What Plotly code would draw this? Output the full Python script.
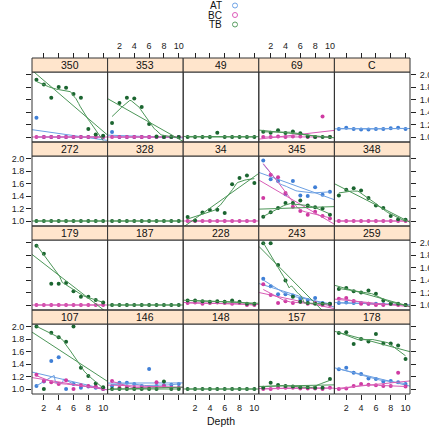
import numpy as np
import plotly.graph_objects as go

# ---------------- data ----------------
depth = [1, 2, 3, 4, 5, 6, 7, 8, 9, 10]
panels = ["107", "146", "148", "157", "178",
          "179", "187", "228", "243", "259",
          "272", "328", "34", "345", "348",
          "350", "353", "49", "69", "C"]
groups = ["AT", "BC", "TB"]

AT = {
    "350": [1.31, 1, 1, 1, 1, 1, 1, 1, 1, 1],
    "353": [1.08, 1, 1, 1, 1, 1, 1, 1, 1, 1],
    "C":   [1.13, 1.15, 1.13, 1.12, 1.12, 1.13, 1.13, 1.14, 1.15, 1.13],
    "345": [1.97, 1.67, 1.64, 1.43, 1.64, 1.41, 1.40, 1.54, 1.42, 1.47],
    "243": [1.42, 1.30, 1.17, 1.17, 1.15, 1.10, 1.08, 1.11, 1.03, 1.02],
    "259": [1.03, 1.04, 1.03, 1.03, 1.02, 1.02, 1.01, 1.02, 1.01, 1.00],
    "107": [1.05, 1.12, 1.45, 1.51, 1.00, 1.08, 1.02, 1.04, 1.02, 1.00],
    "146": [1.05, 1.10, 1.10, 1.08, 1.05, 1.32, 1.05, 1.06, 1.07, 1.08],
    "178": [1.315, 1.34, 1.26, 1.24, 1.17, 1.16, 1.12, 1.13, 1.11, 1.08],
}
BC = {
    "350": [1, 1, 1, 1, 1, 1, 1, 1, 1, 1],
    "353": [1, 1, 1, 1, 1, 1, 1, 1, 1, 1],
    "69":  [1, 1, 1.01, 1, 1.01, 1.01, 1, 1, 1.33, 1],
    "34":  [1, 1, 1, 1, 1, 1, 1, 1, 1, 1],
    "345": [1.37, 1.74, 1.70, 1.45, 1.23, 1.16, 1.10, 1.15, 1.08, 1.04],
    "348": [1, 1, 1, 1, 1, 1, 1, 1, 1, 1],
    "179": [1, 1, 1, 1, 1, 1, 1, 1, 1, 1],
    "228": [1.03, 1.04, 1.02, 1.03, 1.04, 1.03, 1.02, 1.03, 1.00, 1.00],
    "243": [1.33, 1.16, 1.03, 1.06, 1.03, 1.05, 1.02, 1.03, 1.00, 1.00],
    "259": [1.10, 1.11, 1.065, 1.02, 1.02, 1.00, 1.00, 1.02, 1.00, 1.00],
    "107": [1.23, 1.13, 1.11, 1.08, 1.14, 1.00, 1.06, 1.05, 1.04, 1.00],
    "146": [1.13, 1.02, 1.03, 1.02, 1.02, 1.02, 1.11, 1.05, 1.02, 1.02],
    "157": [1.00, 1.00, 1.02, 1.02, 1.02, 1.01, 1.01, 1.01, 1.00, 1.02],
    "178": [1.00, 1.01, 1.05, 1.08, 1.07, 1.06, 1.05, 1.05, 1.26, 1.04],
}
TB = {
    "350": [1.915, 1.84, 1.63, 1.80, 1.79, 1.69, 1.63, 1.13, 1.04, 1.02],
    "353": [1.225, 1.545, 1.63, 1.615, 1.48, 1.21, 1.01, 1.00, 1.00, 1.00],
    "49":  [1, 1, 1, 1, 1.07, 1, 1, 1, 1, 1],
    "69":  [1.085, 1.07, 1.11, 1.065, 1.09, 1.06, 1.01, 1.00, 1.00, 1.00],
    "272": [1, 1, 1, 1, 1, 1, 1, 1, 1, 1],
    "328": [1, 1, 1, 1, 1, 1, 1, 1, 1, 1],
    "34":  [1.065, 1.01, 1.135, 1.175, 1.18, 1.13, 1.59, 1.69, 1.73, 1.61],
    "345": [1.07, 1.14, 1.21, 1.29, 1.29, 1.33, 1.25, 1.22, 1.20, 1.10],
    "348": [1.41, 1.50, 1.525, 1.49, 1.37, 1.25, 1.21, 1.08, 1.03, 1.02],
    "179": [1.95, 1.82, 1.34, 1.34, 1.35, 1.22, 1.13, 1.13, 1.08, 1.04],
    "187": [1, 1, 1, 1, 1, 1, 1, 1, 1, 1],
    "228": [1.07, 1.07, 1.06, 1.05, 1.06, 1.05, 1.07, 1.05, 1.02, 1.02],
    "243": [1.99, 1.99, 1.64, 1.39, 1.13, 1.05, 1.03, 1.02, 1.02, 1.02],
    "259": [1.255, 1.27, 1.22, 1.20, 1.23, 1.18, 1.07, 1.02, 1.02, 1.00],
    "107": [2.00, 1.00, 1.90, 1.83, 1.755, 2.00, 1.34, 1.21, 1.09, 1.03],
    "146": [1, 1, 1, 1, 1, 1, 1, 1.12, 1, 1],
    "148": [1, 1, 1, 1, 1, 1, 1, 1, 1, 1],
    "157": [1.02, 1.10, 1.065, 1.05, 1.04, 1.03, 1.03, 1.02, 1.02, 1.16],
    "178": [1.895, 1.91, 1.72, 1.80, 1.76, 1.88, 1.73, 1.73, 1.695, 1.48],
}
series = {"AT": AT, "BC": BC, "TB": TB}

xticks = [2, 4, 6, 8, 10]
yticks = [1.0, 1.2, 1.4, 1.6, 1.8, 2.0]

# ---------------- styling ----------------
pt_col = {"AT": "#3f7fd6", "BC": "#cf3aa2", "TB": "#1b6530"}
ln_col = {"AT": "#6b9fe2", "BC": "#d85cb6", "TB": "#4c9658"}
key_col = {"AT": "#6fa3e6", "BC": "#dd5cbb", "TB": "#5a9e62"}
XR = [0.4, 10.6]
YR = [0.92, 2.04]
W = H = 429
LEFT, RIGHT = 32, 410
COLW = (RIGHT - LEFT) / 5
ROW_TOP = [58, 142, 226, 310]   # strip tops, top row first
STRIP_H = 14
PANEL_H = 70
TXT = "#222222"
FONT = "Liberation Sans, Arial"


def px(v):
    return v / W


def py(v):
    return 1 - v / H


def loess(x, y, span=2 / 3, iters=4, n_eval=50):
    x = np.asarray(x, float)
    y = np.asarray(y, float)
    n = len(x)
    q = int(np.floor(n * span))
    rw = np.ones(n)

    def fit_at(x0, rw):
        d = np.abs(x - x0)
        h = np.sort(d)[q - 1] * 1.0001 + 1e-9
        u = d / h
        w = np.where(u < 1, (1 - u ** 3) ** 3, 0.0) * rw
        sw = w.sum()
        if sw <= 0:
            return np.nan
        xm = (w * x).sum() / sw
        ym = (w * y).sum() / sw
        sxx = (w * (x - xm) ** 2).sum()
        b = (w * (x - xm) * (y - ym)).sum() / sxx if sxx > 1e-12 else 0.0
        return ym + b * (x0 - xm)

    for it in range(iters - 1):
        fitted = np.array([fit_at(v, rw) for v in x])
        res = np.abs(y - fitted)
        cmad = 6 * np.median(res)
        c1, c9 = 0.001 * cmad, 0.999 * cmad
        with np.errstate(divide="ignore", invalid="ignore"):
            r = np.where(res <= c1, 1.0,
                         np.where(res > c9, 0.0, (1 - (res / cmad) ** 2) ** 2))
        rw = np.nan_to_num(r)
    xe = np.linspace(x.min(), x.max(), n_eval)
    return xe, np.array([fit_at(v, rw) for v in xe])


fig = go.Figure()
shapes = []
annotations = []
layout = {}
tickfont = dict(size=9, color=TXT, family=FONT)

for i, p in enumerate(panels):
    k = i + 1
    row = 3 - i // 5          # 0 = top row
    col = i % 5
    x0 = LEFT + col * COLW
    x1 = x0 + COLW
    st = ROW_TOP[row]
    ptop = st + STRIP_H
    pbot = ptop + PANEL_H
    xa = "x" if k == 1 else f"x{k}"
    ya = "y" if k == 1 else f"y{k}"
    bottom = row == 3
    layout[f"xaxis{k}"] = dict(
        domain=[px(x0), px(x1)], range=XR, anchor=ya, autorange=False,
        automargin=False, showgrid=False, zeroline=False, showline=False,
        tickvals=xticks, ticks="outside" if bottom else "",
        ticklen=5, tickwidth=1, tickcolor=TXT,
        showticklabels=bottom and col in (0, 2, 4), tickfont=tickfont,
    )
    layout[f"yaxis{k}"] = dict(
        domain=[py(pbot), py(ptop)], range=YR, anchor=xa, autorange=False,
        automargin=False, showgrid=False, zeroline=False, showline=False,
        tickvals=yticks, tickformat=".1f",
        ticks="outside" if col == 0 else "",
        ticklen=5, tickwidth=1, tickcolor=TXT,
        showticklabels=(col == 0 and row in (1, 3)), tickfont=tickfont,
    )
    for g in groups:
        if p not in series[g]:
            continue
        yv = series[g][p]
        fig.add_trace(go.Scatter(
            x=depth, y=yv, mode="markers", xaxis=xa, yaxis=ya,
            marker=dict(size=4, color=pt_col[g]), showlegend=False,
            hoverinfo="skip"))
        b, a = np.polyfit(depth, yv, 1)
        fig.add_trace(go.Scatter(
            x=XR, y=[a + b * XR[0], a + b * XR[1]], mode="lines",
            xaxis=xa, yaxis=ya, line=dict(color=ln_col[g], width=1),
            showlegend=False, hoverinfo="skip"))
        xs, ys = loess(depth, yv)
        fig.add_trace(go.Scatter(
            x=xs, y=ys, mode="lines", xaxis=xa, yaxis=ya,
            line=dict(color=ln_col[g], width=1),
            showlegend=False, hoverinfo="skip"))
    shapes.append(dict(type="rect", xref="paper", yref="paper",
                       x0=px(x0), x1=px(x1), y0=py(pbot), y1=py(ptop),
                       line=dict(color="#333333", width=1), layer="above"))
    shapes.append(dict(type="rect", xref="paper", yref="paper",
                       x0=px(x0), x1=px(x1), y0=py(ptop), y1=py(st),
                       fillcolor="#ffe5cc", line=dict(color="#333333", width=1),
                       layer="above"))
    annotations.append(dict(text=p, xref="paper", yref="paper",
                            x=px((x0 + x1) / 2), y=py(st + STRIP_H / 2),
                            xanchor="center", yanchor="middle", showarrow=False,
                            font=dict(size=10.5, color="#111111", family=FONT)))
    if row == 0:
        kk = 21 + col
        layout[f"xaxis{kk}"] = dict(
            overlaying=xa, anchor="free", position=py(st), side="top",
            range=XR, autorange=False, automargin=False, showgrid=False,
            zeroline=False, showline=False, tickvals=xticks, ticks="outside",
            ticklen=5, tickwidth=1, tickcolor=TXT,
            showticklabels=col in (1, 3), tickfont=tickfont)
        fig.add_trace(go.Scatter(x=[], y=[], xaxis=f"x{kk}", yaxis=ya,
                                 showlegend=False, hoverinfo="skip"))
    if col == 4:
        kk = 21 + row
        layout[f"yaxis{kk}"] = dict(
            overlaying=ya, anchor="free", position=px(RIGHT), side="right",
            range=YR, autorange=False, automargin=False, showgrid=False,
            zeroline=False, showline=False, tickvals=yticks, tickformat=".1f",
            ticks="outside", ticklen=5, tickwidth=1, tickcolor=TXT,
            ticklabelstandoff=2,
            showticklabels=row in (0, 2), tickfont=tickfont)
        fig.add_trace(go.Scatter(x=[], y=[], xaxis=xa, yaxis=f"y{kk}",
                                 showlegend=False, hoverinfo="skip"))

# key
for j, g in enumerate(groups):
    yc = 5.5 + j * 9.5
    annotations.append(dict(text=g, xref="paper", yref="paper",
                            x=px(223), y=py(yc), xanchor="right",
                            yanchor="middle", showarrow=False, borderpad=0,
                            font=dict(size=10, color="#111111", family=FONT)))
    shapes.append(dict(type="circle", xref="paper", yref="paper",
                       x0=px(232.5), x1=px(237.5), y0=py(yc + 2.5),
                       y1=py(yc - 2.5), line=dict(color=key_col[g], width=1)))

annotations.append(dict(text="Depth", xref="paper", yref="paper",
                        x=px((LEFT + RIGHT) / 2), y=py(421), xanchor="center",
                        yanchor="middle", showarrow=False,
                        font=dict(size=10.5, color="#111111", family=FONT)))

fig.update_layout(width=W, height=H, autosize=False,
                  margin=dict(l=0, r=0, t=0, b=0, pad=0),
                  paper_bgcolor="white", plot_bgcolor="white",
                  shapes=shapes, annotations=annotations, showlegend=False,
                  **layout)
fig.write_html("out.html", config={"displayModeBar": False},
               post_script="document.body.style.margin='0';"
                           "document.body.style.overflow='hidden';")
